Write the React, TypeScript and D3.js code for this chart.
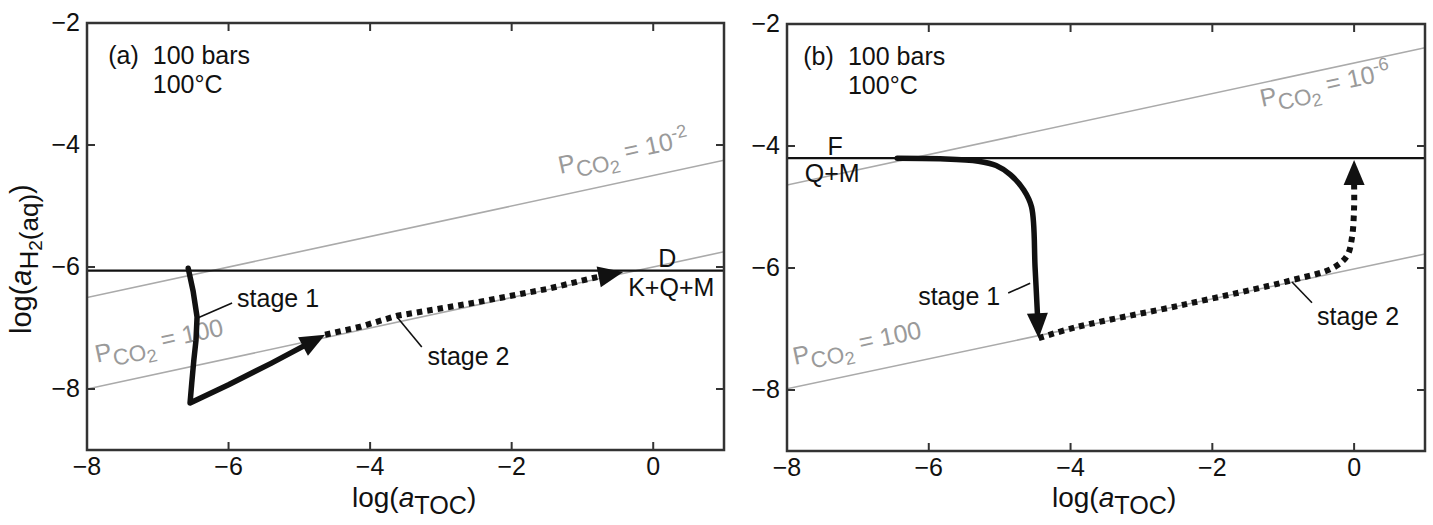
import React from 'react';
import * as d3 from 'd3';

type Pt = [number, number];

// ---- axes ----
const xDomain: [number, number] = [-8, 1];
const yDomain: [number, number] = [-9, -2];
const xTicks = [-8, -6, -4, -2, 0];
const yTicks = [-2, -4, -6, -8];

// ---- panel (a) ----
const aBoundaryY = -6.06; // D / K+Q+M
const aPco2Upper: Pt[] = [[-8, -6.5], [1, -4.25]]; // PCO2 = 10^-2
const aPco2Lower: Pt[] = [[-8, -8.0], [1, -5.75]]; // PCO2 = 100
const aStage1: Pt[] = [
  [-6.57, -6.02], [-6.5, -6.4], [-6.445, -6.82], [-6.46, -7.2], [-6.49, -7.52],
  [-6.52, -7.9], [-6.544, -8.23], [-6.0, -7.93], [-5.4, -7.58], [-4.636, -7.11],
];
const aStage2: Pt[] = [
  [-4.636, -7.11], [-4.14, -6.98], [-3.62, -6.8], [-2.5, -6.58], [-1.5, -6.36],
  [-0.85, -6.18], [-0.424, -6.08],
];
const aLeader1: Pt[] = [[-6.445, -6.84], [-5.95, -6.59]];
const aLeader2: Pt[] = [[-3.62, -6.82], [-3.27, -7.31]];

// ---- panel (b) ----
const bBoundaryY = -4.2; // F / Q+M
const bPco2Upper: Pt[] = [[-8, -4.64], [1, -2.39]]; // PCO2 = 10^-6
const bPco2Lower: Pt[] = [[-8, -7.98], [1, -5.77]]; // PCO2 = 100
const bStage1: Pt[] = [
  [-6.445, -4.2], [-5.84, -4.21], [-5.3, -4.25], [-5.05, -4.32], [-4.85, -4.47],
  [-4.66, -4.72], [-4.55, -5.0], [-4.5, -6.0], [-4.45, -7.15],
];
const bStage2: Pt[] = [
  [-4.45, -7.15], [-3.92, -6.97], [-2.4, -6.6], [-0.88, -6.2], [-0.3, -6.0],
  [-0.1, -5.8], [-0.03, -5.5], [0, -5.0], [0, -4.23],
];
const bLeader1: Pt[] = [[-4.88, -6.41], [-4.57, -6.25]];
const bLeader2: Pt[] = [[-0.876, -6.23], [-0.594, -6.57]];

const FONT = '"Liberation Sans", Arial, Helvetica, sans-serif';
const GREY_LINE = '#aaaaaa';
const GREY_TEXT = '#9a9a9a';
const FRAME = '#333333';
const INK = '#111111';
const FS = 25;
const AXFS = 28;

function fmt(v: number) {
  return v < 0 ? '\u2212' + Math.abs(v) : String(v);
}

function Arrow({ pts, x, y, dashed, smooth }: { pts: Pt[]; x: any; y: any; dashed?: boolean; smooth?: boolean }) {
  const px: Pt[] = pts.map(([a, b]) => [x(a), y(b)]);
  const T = px[px.length - 1];
  const L = 25;
  const W = 10.5;
  const kept = px.slice(0, -1).filter((p, i) => i === 0 || Math.hypot(p[0] - T[0], p[1] - T[1]) > L + 2);
  const P = kept[kept.length - 1];
  const dx = T[0] - P[0];
  const dy = T[1] - P[1];
  const len = Math.hypot(dx, dy);
  const ux = dx / len;
  const uy = dy / len;
  const B: Pt = [T[0] - ux * L, T[1] - uy * L];
  const line = d3
    .line<Pt>()
    .x((d) => d[0])
    .y((d) => d[1])
    .curve(smooth ? d3.curveCatmullRom.alpha(0.5) : d3.curveLinear);
  const d = line([...kept, B]) || '';
  const tri = [T, [B[0] - uy * W, B[1] + ux * W], [B[0] + uy * W, B[1] - ux * W]];
  return (
    <g>
      <path
        d={d}
        fill="none"
        stroke={INK}
        strokeWidth={dashed ? 6 : 5.5}
        strokeDasharray={dashed ? '5.5 5' : undefined}
        strokeLinejoin="round"
        strokeLinecap={dashed ? 'butt' : 'round'}
      />
      <polygon points={tri.map((p) => p.join(',')).join(' ')} fill={INK} />
    </g>
  );
}

function Pco2Label({ x, y, pos, angle, exp }: { x: any; y: any; pos: Pt; angle: number; exp: string | null }) {
  return (
    <text transform={`translate(${x(pos[0])},${y(pos[1])}) rotate(${angle})`} fontFamily={FONT} fontSize={FS} fill={GREY_TEXT}>
      <tspan>P</tspan>
      <tspan dy={7} fontSize={FS * 0.9}>CO</tspan>
      <tspan dy={4} fontSize={FS * 0.72}>2</tspan>
      <tspan dy={-11}>{exp === null ? ' = 100' : ' = 10'}</tspan>
      {exp !== null && <tspan dy={-10} fontSize={FS * 0.72}>{exp}</tspan>}
    </text>
  );
}

function Leader({ pts, x, y }: { pts: Pt[]; x: any; y: any }) {
  return <line x1={x(pts[0][0])} y1={y(pts[0][1])} x2={x(pts[1][0])} y2={y(pts[1][1])} stroke={INK} strokeWidth={1.6} />;
}

function Label({ x, y, pos, children, fill = INK }: any) {
  return (
    <text x={x(pos[0])} y={y(pos[1])} fontFamily={FONT} fontSize={FS} fill={fill}>
      {children}
    </text>
  );
}

function Panel({ left, right, top, bottom, id, children }: any) {
  const x = d3.scaleLinear().domain(xDomain).range([left, right]);
  const y = d3.scaleLinear().domain(yDomain).range([bottom, top]);
  const tl = 8;
  return (
    <g>
      <defs>
        <clipPath id={id}>
          <rect x={left} y={top} width={right - left} height={bottom - top} />
        </clipPath>
      </defs>
      <g clipPath={`url(#${id})`}>{children(x, y)}</g>
      <rect x={left} y={top} width={right - left} height={bottom - top} fill="none" stroke={FRAME} strokeWidth={2.5} />
      {xTicks.map((t) => (
        <g key={'x' + t}>
          <line x1={x(t)} x2={x(t)} y1={bottom} y2={bottom - tl} stroke={FRAME} strokeWidth={2} />
          <line x1={x(t)} x2={x(t)} y1={top} y2={top + tl} stroke={FRAME} strokeWidth={2} />
          <text x={x(t)} y={bottom + 25} textAnchor="middle" fontFamily={FONT} fontSize={FS} fill={INK}>
            {fmt(t)}
          </text>
        </g>
      ))}
      {yTicks.map((t) => (
        <g key={'y' + t}>
          <line x1={left} x2={left + tl} y1={y(t)} y2={y(t)} stroke={FRAME} strokeWidth={2} />
          <line x1={right} x2={right - tl} y1={y(t)} y2={y(t)} stroke={FRAME} strokeWidth={2} />
          <text x={left - 7} y={y(t) + 8} textAnchor="end" fontFamily={FONT} fontSize={FS} fill={INK}>
            {fmt(t)}
          </text>
        </g>
      ))}
      <text x={left + 265} y={507} fontFamily={FONT} fontSize={AXFS} fill={INK}>
        <tspan>log(</tspan>
        <tspan fontStyle="italic">a</tspan>
        <tspan dy={7} fontSize={AXFS * 0.9}>TOC</tspan>
        <tspan dy={-7}>)</tspan>
      </text>
    </g>
  );
}

function lineOf(pts: Pt[], x: any, y: any) {
  return d3.line<Pt>().x((d) => x(d[0])).y((d) => y(d[1]))(pts) || '';
}

export default function App() {
  const slopeAngle = (x: any, y: any, pts: Pt[]) => {
    const dx = x(pts[1][0]) - x(pts[0][0]);
    const dy = y(pts[1][1]) - y(pts[0][1]);
    return (Math.atan2(dy, dx) * 180) / Math.PI;
  };
  return (
    <svg width={1433} height={525} style={{ position: 'absolute', left: 0, top: 0, background: '#fff' }}>
      <rect x={0} y={0} width={1433} height={525} fill="#fff" />
      <text transform="translate(31,334) rotate(-90)" fontFamily={FONT} fontSize={29} fill={INK}>
        <tspan>log(</tspan>
        <tspan fontStyle="italic">a</tspan>
        <tspan dy={7} fontSize={26}>H</tspan>
        <tspan dy={4} fontSize={19}>2</tspan>
        <tspan dy={-4} fontSize={26}>(aq)</tspan>
        <tspan dy={-7}>)</tspan>
      </text>

      <Panel left={87} right={724} top={23} bottom={450} id="clipA">
        {(x: any, y: any) => (
          <g>
            <path d={lineOf(aPco2Upper, x, y)} stroke={GREY_LINE} strokeWidth={1.6} fill="none" />
            <path d={lineOf(aPco2Lower, x, y)} stroke={GREY_LINE} strokeWidth={1.6} fill="none" />
            <line x1={x(xDomain[0])} x2={x(xDomain[1])} y1={y(aBoundaryY)} y2={y(aBoundaryY)} stroke={INK} strokeWidth={2.2} />
            <Pco2Label x={x} y={y} pos={[-1.315, -4.475]} angle={slopeAngle(x, y, aPco2Upper)} exp="-2" />
            <Pco2Label x={x} y={y} pos={[-7.86, -7.57]} angle={slopeAngle(x, y, aPco2Lower)} exp={null} />
            <Arrow pts={aStage1} x={x} y={y} />
            <Arrow pts={aStage2} x={x} y={y} dashed />
            <Leader pts={aLeader1} x={x} y={y} />
            <Leader pts={aLeader2} x={x} y={y} />
            <Label x={x} y={y} pos={[-5.88, -6.66]}>stage 1</Label>
            <Label x={x} y={y} pos={[-3.19, -7.61]}>stage 2</Label>
            <Label x={x} y={y} pos={[0.07, -6.0]}>D</Label>
            <Label x={x} y={y} pos={[-0.354, -6.48]}>K+Q+M</Label>
            <Label x={x} y={y} pos={[-7.7, -2.67]}>(a)</Label>
            <Label x={x} y={y} pos={[-7.07, -2.67]}>100 bars</Label>
            <Label x={x} y={y} pos={[-7.07, -3.15]}>100°C</Label>
          </g>
        )}
      </Panel>

      <Panel left={787} right={1425} top={24} bottom={451} id="clipB">
        {(x: any, y: any) => (
          <g>
            <path d={lineOf(bPco2Upper, x, y)} stroke={GREY_LINE} strokeWidth={1.6} fill="none" />
            <path d={lineOf(bPco2Lower, x, y)} stroke={GREY_LINE} strokeWidth={1.6} fill="none" />
            <line x1={x(xDomain[0])} x2={x(xDomain[1])} y1={y(bBoundaryY)} y2={y(bBoundaryY)} stroke={INK} strokeWidth={2.2} />
            <Pco2Label x={x} y={y} pos={[-1.3, -3.36]} angle={slopeAngle(x, y, bPco2Upper)} exp="-6" />
            <Pco2Label x={x} y={y} pos={[-7.89, -7.59]} angle={slopeAngle(x, y, bPco2Lower)} exp={null} />
            <Arrow pts={bStage1} x={x} y={y} smooth />
            <Arrow pts={bStage2} x={x} y={y} dashed smooth />
            <Leader pts={bLeader1} x={x} y={y} />
            <Leader pts={bLeader2} x={x} y={y} />
            <Label x={x} y={y} pos={[-6.15, -6.61]}>stage 1</Label>
            <Label x={x} y={y} pos={[-0.523, -6.93]}>stage 2</Label>
            <Label x={x} y={y} pos={[-7.43, -4.15]}>F</Label>
            <Label x={x} y={y} pos={[-7.75, -4.59]}>Q+M</Label>
            <Label x={x} y={y} pos={[-7.77, -2.67]}>(b)</Label>
            <Label x={x} y={y} pos={[-7.14, -2.67]}>100 bars</Label>
            <Label x={x} y={y} pos={[-7.14, -3.15]}>100°C</Label>
          </g>
        )}
      </Panel>
    </svg>
  );
}
